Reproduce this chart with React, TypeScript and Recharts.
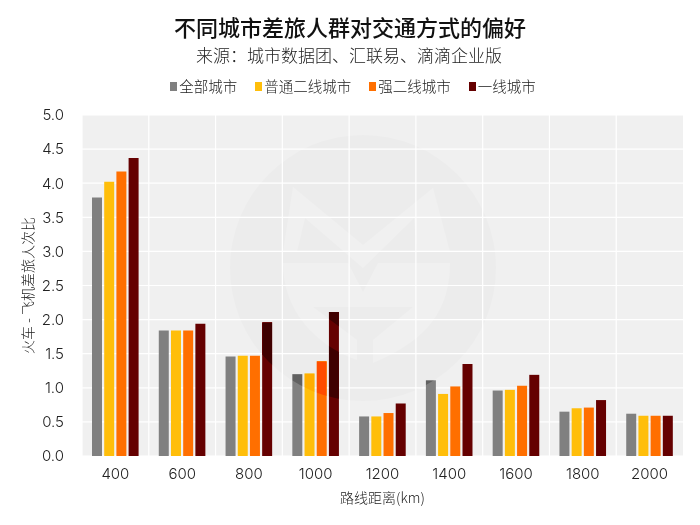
import { Bar, BarChart, CartesianGrid, Legend, XAxis, YAxis } from "recharts";

const FONT = '"Noto Sans CJK SC", "Noto Sans", sans-serif';
const NUM_FONT = 'Inter, "Noto Sans CJK SC", sans-serif';

const distances = ["400", "600", "800", "1000", "1200", "1400", "1600", "1800", "2000"];
const allCities = [3.79, 1.84, 1.46, 1.2, 0.58, 1.11, 0.96, 0.65, 0.62];
const ordinarySecondTier = [4.02, 1.84, 1.47, 1.21, 0.58, 0.91, 0.97, 0.7, 0.59];
const strongSecondTier = [4.17, 1.84, 1.47, 1.39, 0.63, 1.02, 1.03, 0.71, 0.59];
const firstTier = [4.37, 1.94, 1.96, 2.11, 0.77, 1.35, 1.19, 0.82, 0.59];
const yTicks = [0, 0.5, 1, 1.5, 2, 2.5, 3, 3.5, 4, 4.5, 5];

const data = distances.map((d, i) => ({
  distance: d,
  all: allCities[i],
  ordinary: ordinarySecondTier[i],
  strong: strongSecondTier[i],
  first: firstTier[i],
}));

function LegendRow({ payload }: any) {
  return (
    <div style={{ display: "flex", justifyContent: "center", marginLeft: 6, fontFamily: FONT, fontSize: 14.5, fontWeight: 300, color: "#222", lineHeight: "20px" }}>
      {(payload || []).map((p: any, i: number) => (
        <span key={p.value} style={{ display: "flex", alignItems: "center", marginLeft: i ? 18 : 0 }}>
          <span style={{ width: 7, height: 9, background: p.color, marginRight: 2 }} />
          {p.value}
        </span>
      ))}
    </div>
  );
}

function Watermark() {
  // faint logo laid over the plot, burns into bars but leaves white gridlines alone
  return (
    <svg
      width={700}
      height={525}
      style={{ position: "absolute", left: 0, top: 0, pointerEvents: "none", mixBlendMode: "color-burn" }}
    >
      <path
        fillRule="evenodd"
        fill="#cdcdcd"
        d="M230 268a133 133 0 1 0 266 0a133 133 0 1 0 -266 0Z
           M293 187L363 245L433 188L450 252L417 252L414 218L363 268L305 218L297 252L283 252Z
           M283 263L348 263L363 292L378 263L450 263C450 320 415 345 373 363L373 340L413 307L313 307L357 340L357 360C315 345 283 310 283 263Z"
      />
    </svg>
  );
}

export default function App() {
  return (
    <div style={{ position: "absolute", left: 0, top: 0, width: 700, height: 525, background: "#fff", isolation: "isolate" }}>
      <div style={{ position: "absolute", top: 13, width: 700, textAlign: "center", fontFamily: FONT, fontSize: 22, fontWeight: 500, color: "#111", lineHeight: "26px" }}>
        不同城市差旅人群对交通方式的偏好
      </div>
      <div style={{ position: "absolute", top: 43, left: -1, width: 700, textAlign: "center", fontFamily: FONT, fontSize: 17, fontWeight: 300, color: "#222", lineHeight: "23px" }}>
        来源：城市数据团、汇联易、滴滴企业版
      </div>
      <BarChart
        width={700}
        height={525}
        data={data}
        margin={{ top: 95, right: 17, bottom: 0, left: 0 }}
        barSize={10}
        barGap={2.2}
      >
        <CartesianGrid
          fill="#f0f0f0"
          stroke="#fff"
          strokeWidth={1.2}
          verticalCoordinatesGenerator={({ offset }: any) =>
            distances.map((_, i) => offset.left + (i * offset.width) / distances.length)
          }
        />
        <XAxis
          dataKey="distance"
          axisLine={false}
          tickLine={false}
          height={69}
          tick={{ fontFamily: NUM_FONT, fontSize: 15, fontWeight: 300, fill: "#222" }}
          tickMargin={6}
          label={{ value: "路线距离(km)", position: "insideBottom", offset: 22, fontFamily: FONT, fontSize: 14, fontWeight: 300, fill: "#222" }}
        />
        <YAxis
          domain={[0, 5]}
          ticks={yTicks}
          width={82}
          interval={0}
          axisLine={false}
          tickLine={false}
          tickMargin={12}
          tickFormatter={(v: number) => v.toFixed(1)}
          tick={{ fontFamily: NUM_FONT, fontSize: 15, fontWeight: 300, fill: "#222" }}
          label={{ value: "火车 - 飞机差旅人次比", angle: -90, position: "insideLeft", offset: 28, fontFamily: FONT, fontSize: 14, fontWeight: 300, fill: "#222", style: { textAnchor: "middle" } }}
        />
        <Legend verticalAlign="top" itemSorter={null} wrapperStyle={{ position: "absolute", top: 76, left: 0, width: 700 }} content={<LegendRow />} />
        <Bar dataKey="all" name="全部城市" fill="#808080" isAnimationActive={false} />
        <Bar dataKey="ordinary" name="普通二线城市" fill="#ffbe0a" isAnimationActive={false} />
        <Bar dataKey="strong" name="强二线城市" fill="#ff6f00" isAnimationActive={false} />
        <Bar dataKey="first" name="一线城市" fill="#650000" isAnimationActive={false} />
      </BarChart>
      <Watermark />
    </div>
  );
}
